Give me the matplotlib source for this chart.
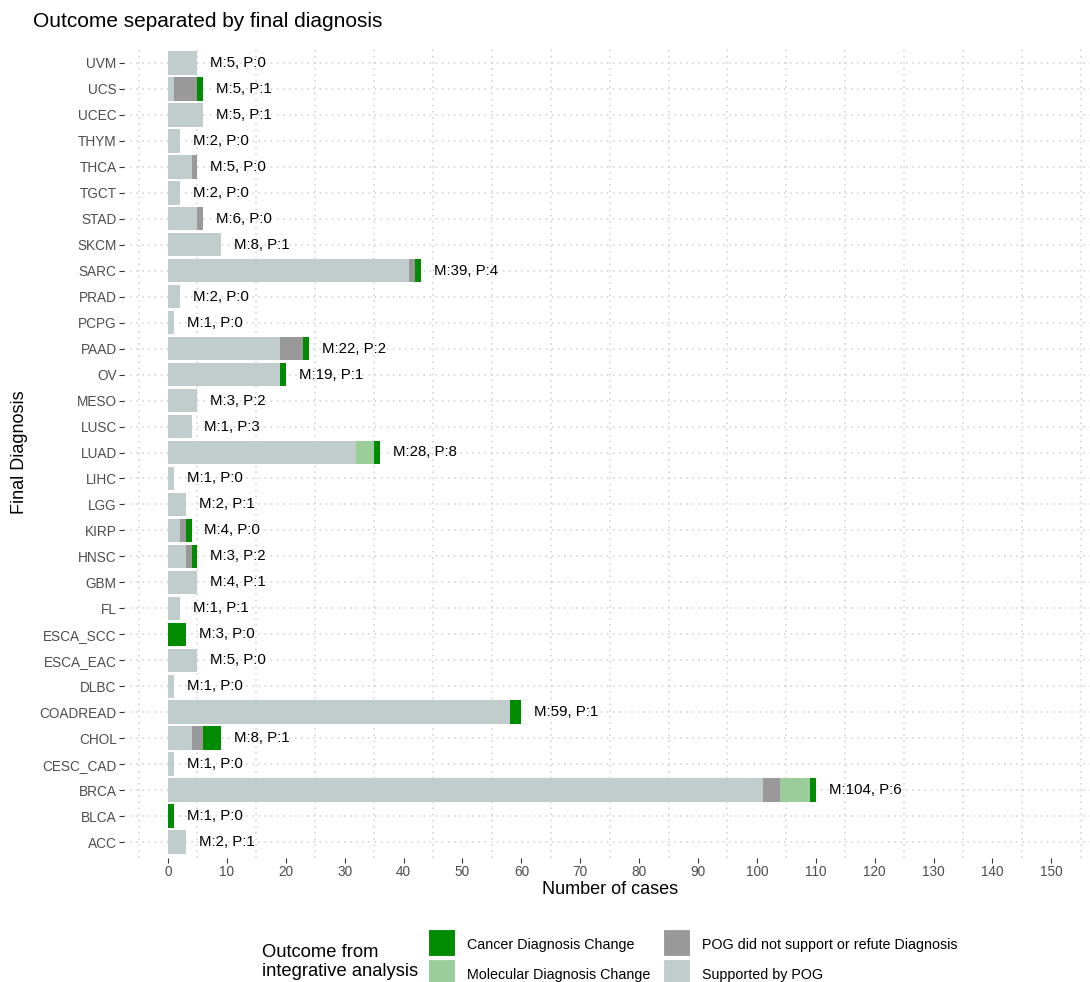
import matplotlib.pyplot as plt
from matplotlib.patches import Rectangle
import numpy as np

plt.rcParams['font.family'] = ['Liberation Sans', 'DejaVu Sans']

# categories, top to bottom as drawn
diagnoses = ['UVM', 'UCS', 'UCEC', 'THYM', 'THCA', 'TGCT', 'STAD', 'SKCM', 'SARC',
             'PRAD', 'PCPG', 'PAAD', 'OV', 'MESO', 'LUSC', 'LUAD', 'LIHC', 'LGG',
             'KIRP', 'HNSC', 'GBM', 'FL', 'ESCA_SCC', 'ESCA_EAC', 'DLBC', 'COADREAD',
             'CHOL', 'CESC_CAD', 'BRCA', 'BLCA', 'ACC']
supported = [5, 1, 6, 2, 4, 2, 5, 9, 41, 2, 1, 19, 19, 5, 4, 32, 1, 3,
             2, 3, 5, 2, 0, 5, 1, 58, 4, 1, 101, 0, 3]
pog_none = [0, 4, 0, 0, 1, 0, 1, 0, 1, 0, 0, 4, 0, 0, 0, 0, 0, 0,
            1, 1, 0, 0, 0, 0, 0, 0, 2, 0, 3, 0, 0]
molecular = [0, 0, 0, 0, 0, 0, 0, 0, 0, 0, 0, 0, 0, 0, 0, 3, 0, 0,
             0, 0, 0, 0, 0, 0, 0, 0, 0, 0, 5, 0, 0]
cancer = [0, 1, 0, 0, 0, 0, 0, 0, 1, 0, 0, 1, 1, 0, 0, 1, 0, 0,
          1, 1, 0, 0, 3, 0, 0, 2, 3, 0, 1, 1, 0]
m_counts = [5, 5, 5, 2, 5, 2, 6, 8, 39, 2, 1, 22, 19, 3, 1, 28, 1, 2,
            4, 3, 4, 1, 3, 5, 1, 59, 8, 1, 104, 1, 2]
p_counts = [0, 1, 1, 0, 0, 0, 0, 1, 4, 0, 0, 2, 1, 2, 3, 8, 0, 1,
            0, 2, 1, 1, 0, 0, 0, 1, 1, 0, 6, 0, 1]

outcomes = ['Supported by POG', 'POG did not support or refute Diagnosis',
            'Molecular Diagnosis Change', 'Cancer Diagnosis Change']
colors = {'Supported by POG': '#C1CDCD',
          'POG did not support or refute Diagnosis': '#999999',
          'Molecular Diagnosis Change': '#9BCD9B',
          'Cancer Diagnosis Change': '#008B00'}
series = [supported, pog_none, molecular, cancer]

W, H = 1090, 982
fig = plt.figure(figsize=(W / 100, H / 100), dpi=100)
pl, pr, pt, pb = 123.8, 1095.5, 47.4, 857.6
ax = fig.add_axes([pl / W, 1 - pb / H, (pr - pl) / W, (pb - pt) / H])

y = np.arange(len(diagnoses))
left = np.zeros(len(diagnoses))
for name, vals in zip(outcomes, series):
    vals = np.array(vals, dtype=float)
    ax.barh(y, vals, left=left, height=0.9, color=colors[name], zorder=2)
    left += vals

for yi, tot, m, p in zip(y, left, m_counts, p_counts):
    ax.text(tot + 2.2, yi, f'M:{m}, P:{p}', ha='left', va='center',
            fontsize=10.8, color='black', zorder=3)

ax.set_xlim(-7.5, 157.5)
ax.set_ylim(len(diagnoses) - 0.4, -0.6)
ax.set_yticks(y)
ax.set_yticklabels(diagnoses)
ax.set_xticks(np.arange(0, 151, 10))
ax.set_xticks(np.arange(-5, 156, 10), minor=True)
ax.tick_params(axis='both', which='major', length=3.3, width=0.8, color='#333333',
               labelcolor='#4D4D4D', labelsize=9.8, pad=1.8)
ax.tick_params(axis='both', which='minor', length=0)

ax.grid(False)
ax.grid(axis='x', which='minor', color='#CFCFCF', linestyle=(0, (1, 3)), linewidth=1.1, zorder=0)
ax.grid(axis='y', which='major', color='#CFCFCF', linestyle=(0, (1, 3)), linewidth=1.1, zorder=0)
ax.set_axisbelow(True)
for s in ax.spines.values():
    s.set_visible(False)

fig.text(33 / W, 1 - 27 / H, 'Outcome separated by final diagnosis', fontsize=15,
         ha='left', va='baseline', color='black')
fig.text(610 / W, 1 - 889 / H, 'Number of cases', fontsize=13, ha='center', va='center')
fig.text(20 / W, 1 - 452 / H, 'Final Diagnosis', fontsize=13, ha='center', va='center',
         rotation=90)

# legend at the bottom, ggplot style
fig.text(262 / W, 1 - 962 / H, 'Outcome from\nintegrative analysis', fontsize=13.2,
         ha='left', va='center', linespacing=1.2)
legend_order = ['Cancer Diagnosis Change', 'Molecular Diagnosis Change',
                'POG did not support or refute Diagnosis', 'Supported by POG']
box = 27
for i, name in enumerate(legend_order):
    col, row = divmod(i, 2)
    bx = 428 + col * 235
    by = 929 + row * 30
    fig.add_artist(Rectangle((bx / W, 1 - (by + box) / H), box / W, box / H,
                             transform=fig.transFigure, facecolor=colors[name],
                             edgecolor='white', linewidth=0.8))
    fig.text((bx + box + 12) / W, 1 - (by + box / 2 + 2) / H, name, fontsize=10.3,
             ha='left', va='center')

fig.savefig('out.png', dpi=100)
